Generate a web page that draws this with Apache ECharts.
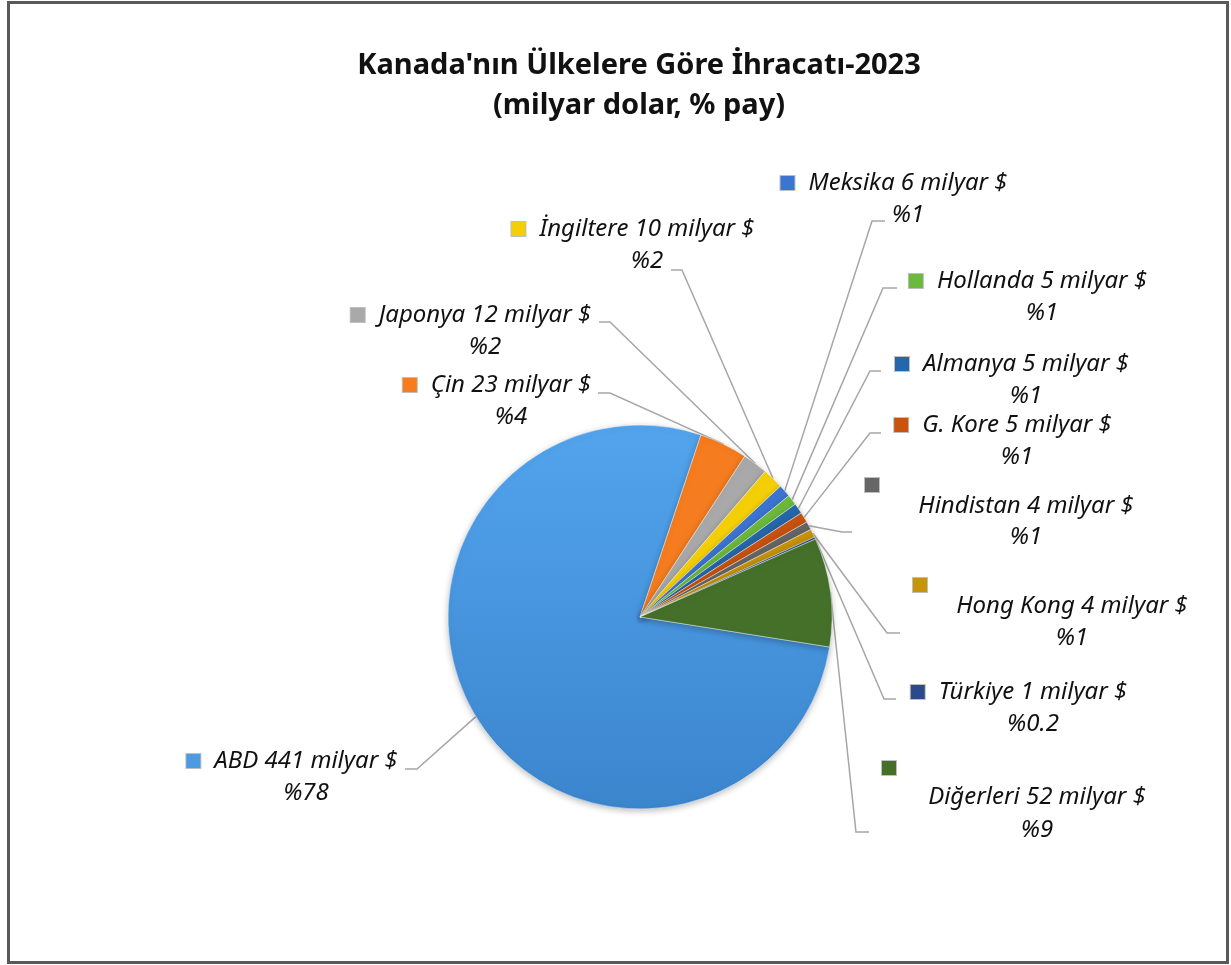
<!DOCTYPE html>
<html>
<head>
<meta charset="utf-8">
<title>Kanada ihracat</title>
<script src="https://cdn.jsdelivr.net/npm/echarts@6/dist/echarts.min.js"></script>
<style>
  html, body { margin: 0; padding: 0; background: #fff; }
  #chart { position: absolute; left: 0; top: 0; width: 1231px; height: 965px; }
  #frame { position: absolute; left: 7px; top: 1px; width: 1222px; height: 963px;
           border: 3px solid #595959; box-sizing: border-box; pointer-events: none; }
</style>
</head>
<body>
<div id="chart"></div>
<div id="frame"></div>
<script>
// veri
const countries = ["ABD", "Çin", "Japonya", "İngiltere", "Meksika", "Hollanda", "Almanya",
  "G. Kore", "Hindistan", "Hong Kong", "Türkiye", "Diğerleri"];
const exportsBn = [441, 23, 12, 10, 6, 5, 5, 5, 4, 4, 1, 52];
const sliceColors = ["#4b9be3", "#f57c1f", "#a9a9a9", "#f5cf06", "#3c74d2", "#6cba3c",
  "#2567ab", "#c9520f", "#666666", "#c8940a", "#2a4a8c", "#44702a"];

// etiket yerleşimi (x: blok merkezi, y: üst kenar)
const labelPos = [
  [292, 745], [497, 369], [471, 299], [633, 213], [894, 167], [1028, 265],
  [1012, 348], [1003, 409], [1026, 476], [1072, 576], [1019, 676], [1037, 759],
];
// kırılan etiketler: ikon ayrı satırda [ikonX, ikonSatırı, adSatırı, yüzdeSatırı]
const wrapped = { 8: [865, 18, 24, 38], 9: [913, 18, 24, 40], 11: [882, 18, 40, 26] };
// kılavuz çizgileri: dirsek ve uç
const guides = [
  [417, 769, 405], [610, 393, 598], [610, 322, 599], [682, 270, 671],
  [872, 221, 885], [883, 288, 897], [870, 371, 881], [870, 433, 881],
  [842, 532, 852], [887, 633, 900], [884, 699, 896], [856, 832, 869],
];

const FONT = "Noto Sans";
const FS = 24;
const rich = {
  g: { width: 14 },
  pre: { width: 28 },
};
countries.forEach((c, i) => {
  rich["ic" + i] = { width: 14, height: 14, backgroundColor: sliceColors[i],
    borderColor: "rgba(0,0,0,0.25)", borderWidth: 1, lineHeight: 32 };
  const w = wrapped[i];
  rich["n" + i] = { fontFamily: FONT, fontStyle: "italic", fontSize: FS, color: "#111",
    lineHeight: w ? w[2] : 32 };
  rich["p" + i] = { fontFamily: FONT, fontStyle: "italic", fontSize: FS, color: "#111",
    lineHeight: w ? w[3] : 32 };
  if (w) {
    rich["ic" + i].lineHeight = w[1];
    rich["sp" + i] = { width: 2 * (labelPos[i][0] - w[0]) - 14, lineHeight: w[1] };
  }
});

const chart = echarts.init(document.getElementById("chart"));

const option = {
  animation: false,
  backgroundColor: "#fff",
  title: {
    text: "Kanada'nın Ülkelere Göre İhracatı-2023\n(milyar dolar, % pay)",
    left: 634,
    top: 41,
    textAlign: "center",
    textStyle: { fontFamily: FONT, fontSize: 29, fontWeight: "bold", color: "#111", lineHeight: 40 },
  },
  series: [
    {
      type: "pie",
      center: [640, 617],
      radius: 192,
      startAngle: 351,
      clockwise: true,
      avoidLabelOverlap: false,
      data: countries.map((c, i) => ({
        name: c,
        value: exportsBn[i],
        itemStyle: {
          color: i === 0
            ? new echarts.graphic.LinearGradient(0, 0, 0, 1, [
                { offset: 0, color: "#52a4ed" },
                { offset: 1, color: "#3b85cd" },
              ])
            : sliceColors[i],
        },
      })),
      itemStyle: { borderColor: "rgba(255,255,255,0.45)", borderWidth: 1,
        shadowBlur: 6, shadowColor: "rgba(0,0,0,0.25)", shadowOffsetY: 2 },
      label: {
        show: true,
        position: "outside",
        rich: rich,
        formatter: (p) => {
          const i = p.dataIndex;
          const pct = p.percent >= 0.5 ? Math.round(p.percent) : p.percent.toFixed(1);
          const txt = p.name + " " + p.value + " milyar $";
          if (wrapped[i]) {
            return `{ic${i}|}{sp${i}|}\n{n${i}|${txt}}\n{p${i}|%${pct}}`;
          }
          return `{ic${i}|}{g|}{n${i}|${txt}}\n{pre|}{p${i}|%${pct}}`;
        },
      },
      labelLine: {
        show: true,
        length: 10,
        length2: 10,
        lineStyle: { color: "#a6a6a6", width: 1.5 },
      },
      labelLayout: (params) => {
        const i = params.dataIndex;
        const g = guides[i];
        const start = params.labelLinePoints ? params.labelLinePoints[0] : [g[0], g[1]];
        return {
          x: labelPos[i][0],
          y: labelPos[i][1],
          align: "center",
          verticalAlign: "top",
          labelLinePoints: [start, [g[0], g[1]], [g[2], g[1]]],
        };
      },
    },
  ],
};

chart.setOption(option);
window.addEventListener("resize", () => {
  chart.resize();
});
</script>
</body>
</html>
